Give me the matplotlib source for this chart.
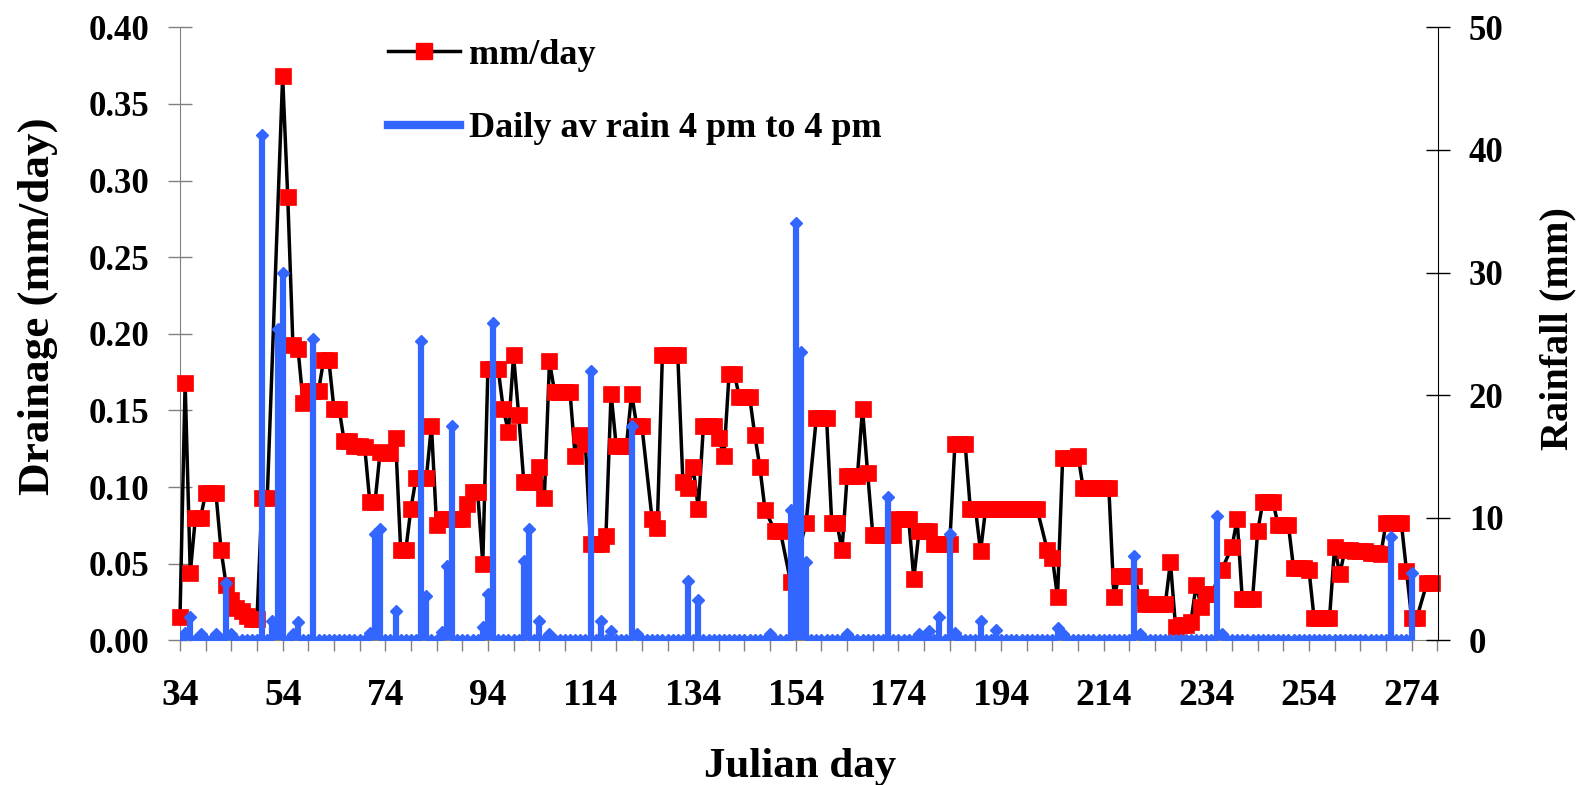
import matplotlib
matplotlib.use("Agg")
import matplotlib.pyplot as plt
import numpy as np
from matplotlib.lines import Line2D

plt.rcParams["font.family"] = ["Liberation Serif", "DejaVu Serif"]
plt.rcParams["font.weight"] = "bold"

# ── Data ──────────────────────────────────────────────────────────────────────

drain_day = [
    34, 35, 36, 37, 38, 39, 40, 41, 42, 43, 44, 45, 46, 47, 48, 49, 50, 51,
    54, 55, 56, 57, 58, 59, 60, 61, 62, 63, 64, 65, 66, 67, 68, 69, 70, 71, 72,
    73, 74, 75, 76, 77, 78, 79, 80, 81, 82, 83, 84, 85, 86, 87, 88, 89, 90, 91, 92,
    93, 94, 95, 96, 97, 98, 99, 100, 101, 102, 103, 104, 105, 106, 107, 108, 109, 110, 111, 112, 113,
    114, 115, 116, 117, 118, 119, 120, 121, 122, 123, 124,
    126, 127, 128, 129, 130, 131, 132, 133, 134, 135, 136, 137, 138, 139, 140, 141, 142, 143, 144, 145, 146, 147, 148,
    150, 151, 153, 156,
    158, 159, 160, 161, 162, 163, 164, 165, 166, 167, 168, 169, 170, 171, 172, 173, 174, 175, 176, 177,
    178, 179, 180, 181, 182, 183, 184, 185, 186, 187, 188, 189, 190,
    191, 192, 193, 194, 195, 196, 197, 198, 199, 200, 201,
    203, 204, 205, 206, 207, 208, 209, 210, 211, 212, 213, 214, 215, 216, 217, 218, 219, 220,
    221, 222, 223, 224, 225, 226, 227, 228, 229, 230, 231, 232, 233, 234, 235,
    237, 239, 240, 241, 242, 243, 244, 245, 246, 247, 248, 249, 250, 251, 252, 253, 254,
    255, 256, 257, 258, 259, 260, 261, 262, 263, 264, 265, 266, 267, 268,
    269, 270, 271, 272, 273, 274, 275, 277, 278,
]
drain_val = [
    0.015, 0.168, 0.044, 0.080, 0.080, 0.096, 0.096, 0.096, 0.059, 0.036, 0.026, 0.021, 0.019, 0.016, 0.014, 0.014, 0.093, 0.093,
    0.368, 0.289, 0.193, 0.190, 0.155, 0.163, 0.163, 0.163, 0.183, 0.183, 0.151, 0.151, 0.130, 0.130, 0.127, 0.127, 0.126, 0.090, 0.090,
    0.123, 0.122, 0.122, 0.132, 0.059, 0.059, 0.086, 0.106, 0.106, 0.106, 0.140, 0.075, 0.079, 0.079, 0.079, 0.079, 0.079, 0.089, 0.097, 0.097,
    0.050, 0.177, 0.177, 0.177, 0.151, 0.136, 0.186, 0.147, 0.103, 0.103, 0.103, 0.113, 0.093, 0.182, 0.162, 0.162, 0.162, 0.162, 0.120, 0.134, 0.128,
    0.063, 0.063, 0.063, 0.068, 0.161, 0.127, 0.127, 0.127, 0.161, 0.140, 0.140,
    0.079, 0.073, 0.186, 0.186, 0.186, 0.186, 0.103, 0.0995, 0.113, 0.086, 0.140, 0.140, 0.140, 0.132, 0.120, 0.174, 0.174, 0.159, 0.159, 0.159, 0.134, 0.113, 0.085,
    0.071, 0.071, 0.038, 0.0765,
    0.145, 0.145, 0.145, 0.0765, 0.0765, 0.059, 0.107, 0.107, 0.107, 0.151, 0.109, 0.069, 0.069, 0.069, 0.069, 0.069, 0.079, 0.079, 0.079, 0.040,
    0.071, 0.071, 0.071, 0.063, 0.063, 0.063, 0.063, 0.128, 0.128, 0.128, 0.086, 0.086, 0.058,
    0.086, 0.086, 0.086, 0.086, 0.086, 0.086, 0.086, 0.086, 0.086, 0.086, 0.086,
    0.059, 0.054, 0.028, 0.119, 0.119, 0.119, 0.1205, 0.0995, 0.0995, 0.0995, 0.0995, 0.0995, 0.0995, 0.028, 0.042, 0.042, 0.042, 0.042,
    0.028, 0.0236, 0.0236, 0.0236, 0.0236, 0.0236, 0.051, 0.009, 0.010, 0.010, 0.012, 0.036, 0.022, 0.030, 0.030,
    0.046, 0.061, 0.079, 0.027, 0.027, 0.027, 0.071, 0.090, 0.090, 0.090, 0.075, 0.075, 0.075, 0.047, 0.047, 0.047, 0.046,
    0.0144, 0.0144, 0.0144, 0.0144, 0.061, 0.043, 0.059, 0.059, 0.058, 0.058, 0.058, 0.057, 0.057, 0.056,
    0.0765, 0.0765, 0.0765, 0.0765, 0.0454, 0.0144, 0.0144, 0.0376, 0.0376,
]

# rain record runs daily from day 34 to 274; days not listed had no rain
RAIN_FIRST, RAIN_LAST = 34, 274
rain_event_day = [
    35, 36, 38, 41, 43, 44, 50, 52, 53, 54, 56, 57, 60, 71, 72, 73, 76, 81, 82,
    85, 86, 87, 93, 94, 95, 101, 102, 104, 106, 114, 116, 118, 122, 123, 133, 135,
    149, 153, 154, 155, 156, 164, 172, 178, 180, 182, 184, 185, 190, 193, 205, 206,
    220, 221, 236, 237, 270, 274,
]
rain_event_mm = [
    0.6, 1.9, 0.5, 0.5, 4.7, 0.5, 41.2, 1.6, 25.4, 30.0, 0.5, 1.5, 24.6, 0.6, 8.7, 9.1, 2.4, 24.4, 3.6,
    0.7, 6.1, 17.5, 1.1, 3.8, 25.9, 6.5, 9.1, 1.6, 0.5, 22.0, 1.6, 0.75, 17.5, 0.5, 4.8, 3.3,
    0.5, 10.6, 34.0, 23.5, 6.4, 0.5, 11.7, 0.5, 0.75, 1.9, 8.7, 0.6, 1.6, 0.8, 1.0, 0.5,
    6.9, 0.5, 10.1, 0.5, 8.4, 5.5,
]

x_ticks = list(range(34, 280, 5))
x_labels = [str(t) if (t - 34) % 20 == 0 else "" for t in x_ticks]
y_ticks_left = [0.0, 0.05, 0.10, 0.15, 0.20, 0.25, 0.30, 0.35, 0.40]
y_ticks_right = [0, 10, 20, 30, 40, 50]

# ── Style ─────────────────────────────────────────────────────────────────────

RED = "#FF0000"
BLUE = "#3366FF"
GREY = "#808080"

rain_day = np.arange(RAIN_FIRST, RAIN_LAST + 1)
rain_mm = np.zeros(len(rain_day))
for d, r in zip(rain_event_day, rain_event_mm):
    rain_mm[d - RAIN_FIRST] = r

# each day drawn as a thin vertical spike rising from the zero line
spike_x = np.repeat(rain_day, 3)
spike_y = np.column_stack([np.zeros_like(rain_mm), rain_mm, np.zeros_like(rain_mm)]).ravel()

# ── Figure ────────────────────────────────────────────────────────────────────

fig = plt.figure(figsize=(15.82, 7.85), dpi=100)
ax = fig.add_axes([0.11378, 0.18433, 0.79538, 0.78089])
ax2 = ax.twinx()

ax.plot(drain_day, drain_val, "-", color="black", lw=2.5, marker="s", ms=12,
        mfc=RED, mec=RED, mew=0.5, clip_on=False, zorder=3)

ax2.plot(spike_x, spike_y, "-", color=BLUE, lw=4.4, solid_capstyle="butt",
         solid_joinstyle="miter", zorder=3)
ax2.plot(rain_day, rain_mm, ls="none", marker="D", ms=6, color=BLUE, zorder=3)

ax.set_xlim(34, 279.2)
ax.set_ylim(0, 0.40)
ax2.set_ylim(0, 50)

ax.set_xticks(x_ticks)
ax.set_xticklabels(x_labels)
ax.set_yticks(y_ticks_left)
ax.set_yticklabels([f"{v:.2f}" for v in y_ticks_left])
ax2.set_yticks(y_ticks_right)

ax.tick_params(axis="x", direction="out", length=8, width=1, color=GREY,
               labelsize=27, pad=19)
ax.tick_params(axis="y", direction="inout", length=17, width=1, color=GREY,
               labelsize=25, pad=13.5)
ax2.tick_params(axis="y", direction="inout", length=17, width=1, color="black",
                labelsize=25, pad=13.5)

for a in (ax, ax2):
    a.spines["top"].set_visible(False)
ax.spines["right"].set_visible(False)
ax.spines["left"].set_color(GREY)
ax.spines["bottom"].set_color(GREY)
ax2.spines["left"].set_visible(False)
ax2.spines["bottom"].set_visible(False)
ax2.spines["right"].set_color("black")

fig.text(0.506, 0.010, "Julian day", ha="center", va="baseline",
         fontsize=31, fontweight="bold")
fig.text(0.024, 0.610, "Drainage (mm/day)", rotation=90, ha="center", va="center",
         fontsize=32.5, fontweight="bold")
fig.text(0.985, 0.581, "Rainfall (mm)", rotation=90, ha="center", va="center",
         fontsize=29, fontweight="bold")

handles = [
    Line2D([], [], color="black", lw=2.5, marker="s", ms=12, mfc=RED, mec=RED),
    Line2D([], [], color=BLUE, lw=6),
]
ax2.legend(handles, ["mm/day", "Daily av rain 4 pm to 4 pm"],
           loc="upper left", bbox_to_anchor=(388 / 1582, 0.951),
           bbox_transform=fig.transFigure, frameon=False, fontsize=26,
           handlelength=2.0, handletextpad=0.25, labelspacing=1.12,
           borderpad=0, borderaxespad=0)

fig.savefig("out.png", dpi=100)
plt.close(fig)
